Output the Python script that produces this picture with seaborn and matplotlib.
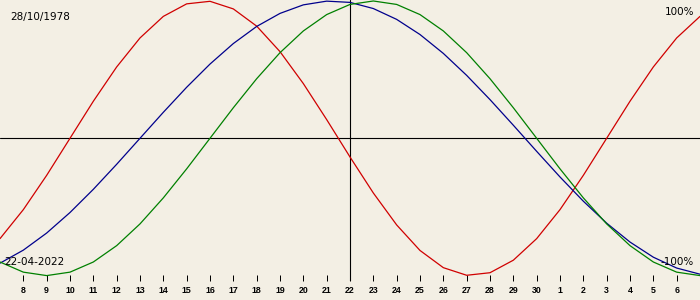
import numpy as np
import pandas as pd
import matplotlib
matplotlib.use("Agg")
import matplotlib.pyplot as plt
import seaborn as sns

# ---- data ----
start_date = "2022-04-07"
end_date = "2022-05-07"
marker_date = "2022-04-22"

physical = [-0.7308, -0.5196, -0.2698, 0.0, 0.2698, 0.5196, 0.7308, 0.8879,
            0.9791, 0.9977, 0.9423, 0.8170, 0.6311, 0.3984, 0.1362, -0.1362,
            -0.3984, -0.6311, -0.8170, -0.9423, -0.9977, -0.9791, -0.8879,
            -0.7308, -0.5196, -0.2698, 0.0, 0.2698, 0.5196, 0.7308, 0.8879]
emotional = [-0.9010, -0.9749, -1.0, -0.9749, -0.9010, -0.7818, -0.6235,
             -0.4339, -0.2225, 0.0, 0.2225, 0.4339, 0.6235, 0.7818, 0.9010,
             0.9749, 1.0, 0.9749, 0.9010, 0.7818, 0.6235, 0.4339, 0.2225,
             0.0, -0.2225, -0.4339, -0.6235, -0.7818, -0.9010, -0.9749, -1.0]
intellectual = [-0.9096, -0.8146, -0.6901, -0.5406, -0.3717, -0.1893, 0.0,
                0.1893, 0.3717, 0.5406, 0.6901, 0.8146, 0.9096, 0.9718, 0.9989,
                0.9898, 0.9450, 0.8660, 0.7557, 0.6182, 0.4582, 0.2817, 0.0951,
                -0.0951, -0.2817, -0.4582, -0.6182, -0.7557, -0.8660, -0.9450,
                -0.9898]

birth_label = "28/10/1978"
date_label = "22-04-2022"
top_label = "100%"
bottom_label = "-100%"

series_names = ["Physical", "Intellectual", "Emotional"]
series_colors = {"Physical": "#d00000", "Intellectual": "#00008c", "Emotional": "#008000"}
bg = "#f3efe4"

dates = pd.date_range(start_date, end_date, freq="D")
df = pd.DataFrame({"date": dates, "Physical": physical,
                   "Emotional": emotional, "Intellectual": intellectual})
long = df.melt(id_vars="date", var_name="series", value_name="value")

sns.set_theme(style="white")
plt.rcParams["font.family"] = ["DejaVu Sans"]

fig = plt.figure(figsize=(7, 3), dpi=100, facecolor=bg)
ax = fig.add_axes([0, 19 / 300, 1, 281 / 300])
ax.set_facecolor(bg)

ax.axhline(0, color="black", lw=0.8, zorder=1)
ax.axvline(pd.Timestamp(marker_date), color="black", lw=0.8, zorder=1)

sns.lineplot(data=long, x="date", y="value", hue="series", hue_order=series_names,
             palette=series_colors, linewidth=0.9, legend=False, ax=ax, zorder=2)

ax.set_xlim(dates[0], dates[-1])
ax.set_ylim(-1.0394, 1.0072)
tick_dates = dates[1:-1]
ax.set_xticks(tick_dates)
ax.set_xticklabels([str(d.day) for d in tick_dates], family="Liberation Sans",
                   fontweight="bold")
ax.tick_params(axis="x", direction="in", length=4.3, width=0.72, pad=3.4,
               labelsize=6.3, colors="black", bottom=True)
ax.set_yticks([])
ax.set_xlabel("")
ax.set_ylabel("")
for s in ax.spines.values():
    s.set_visible(False)

fig.text(10 / 700, 1 - 17 / 300, birth_label, ha="left", va="center", fontsize=7.5, color="black")
fig.text(4 / 700, 1 - 262 / 300, date_label, ha="left", va="center", fontsize=7.5, color="black")
fig.text(694 / 700, 1 - 12 / 300, top_label, ha="right", va="center", fontsize=7.5, color="black")
fig.text(694 / 700, 1 - 262 / 300, bottom_label, ha="right", va="center", fontsize=7.5, color="black")

fig.savefig("out.png", dpi=100, facecolor=bg)
